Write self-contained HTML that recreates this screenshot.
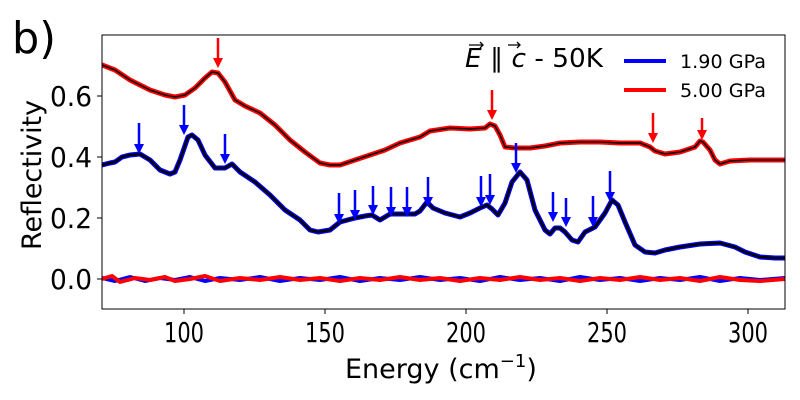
<!DOCTYPE html><html><head><style>body{margin:0;background:#fff}svg{display:block}text{font-family:"DejaVu Sans","Liberation Sans",sans-serif}</style></head><body>
<svg width="800" height="400" xmlns="http://www.w3.org/2000/svg">
<text x="12" y="53" font-size="44" textLength="44" lengthAdjust="spacingAndGlyphs">b)</text>
<g font-size="28" text-anchor="end">
<text x="92" y="106" textLength="42" lengthAdjust="spacingAndGlyphs">0.6</text><text x="92" y="167" textLength="42" lengthAdjust="spacingAndGlyphs">0.4</text><text x="92" y="228" textLength="42" lengthAdjust="spacingAndGlyphs">0.2</text><text x="92" y="289" textLength="42" lengthAdjust="spacingAndGlyphs">0.0</text>
</g>
<g stroke="#000" stroke-width="1"><line x1="97" y1="96" x2="102" y2="96"/><line x1="97" y1="157" x2="102" y2="157"/><line x1="97" y1="218" x2="102" y2="218"/><line x1="97" y1="279" x2="102" y2="279"/>
<line x1="184" y1="309" x2="184" y2="314"/><line x1="325" y1="309" x2="325" y2="314"/><line x1="466" y1="309" x2="466" y2="314"/><line x1="607" y1="309" x2="607" y2="314"/><line x1="748" y1="309" x2="748" y2="314"/></g>
<g font-size="28" text-anchor="middle">
<text x="184" y="342" textLength="40" lengthAdjust="spacingAndGlyphs">100</text><text x="325" y="342" textLength="40" lengthAdjust="spacingAndGlyphs">150</text><text x="466" y="342" textLength="40" lengthAdjust="spacingAndGlyphs">200</text><text x="607" y="342" textLength="40" lengthAdjust="spacingAndGlyphs">250</text><text x="748" y="342" textLength="40" lengthAdjust="spacingAndGlyphs">300</text>
</g>
<text x="345" y="378" font-size="27">Energy (cm<tspan font-size="18" dy="-11">−1</tspan><tspan dy="11">)</tspan></text>
<text transform="translate(41,250) rotate(-90)" font-size="27" textLength="150" lengthAdjust="spacingAndGlyphs">Reflectivity</text>
<clipPath id="c"><rect x="102" y="35" width="683" height="274"/></clipPath>
<g clip-path="url(#c)" fill="none" stroke-linejoin="round" stroke-linecap="round">
<polyline stroke="#00f" stroke-width="4" points="102,278 115,281 130,277 145,281 160,278 175,280 190,277 205,281 220,278 240,280 260,277 280,281 300,278 320,280 340,277 360,281 380,278 400,280 420,277 440,280 460,278 480,281 500,277 520,280 540,278 560,281 580,277 600,280 620,278 640,281 660,278 680,280 700,277 720,281 740,278 760,280 785,278"/>
<polyline stroke="#f00" stroke-width="4" points="102,279 112,276 120,282 135,278 150,280 165,277 175,281 190,279 205,276 220,281 240,278 260,280 280,277 300,280 320,278 340,281 360,278 380,280 400,277 420,280 440,278 460,281 480,278 500,280 520,277 540,280 560,278 580,281 600,278 620,280 640,277 660,280 680,278 700,281 720,277 740,280 760,281 785,279"/>
<polyline stroke="#f00" stroke-width="5" points="102,65 115,70 130,80 150,90 165,95 175,97 185,95 195,88 205,78 212,72 218,73 225,82 235,100 245,106 260,113 275,125 290,140 305,152 320,163 330,165 340,165 355,160 370,155 385,150 400,143 420,137 430,131 450,128 470,129 485,128 490,124 495,126 500,135 505,147 515,148 530,148 545,146 560,143 580,142 600,142 620,143 640,143 650,147 655,151 665,154 680,152 695,147 700,141 703,142 710,150 715,160 720,164 730,161 750,160 785,160"/>
<polyline stroke="#000" stroke-width="1.5" points="102,65 115,70 130,80 150,90 165,95 175,97 185,95 195,88 205,78 212,72 218,73 225,82 235,100 245,106 260,113 275,125 290,140 305,152 320,163 330,165 340,165 355,160 370,155 385,150 400,143 420,137 430,131 450,128 470,129 485,128 490,124 495,126 500,135 505,147 515,148 530,148 545,146 560,143 580,142 600,142 620,143 640,143 650,147 655,151 665,154 680,152 695,147 700,141 703,142 710,150 715,160 720,164 730,161 750,160 785,160"/>
<polyline stroke="#00f" stroke-width="5" points="102,165 110,163 115,162 122,157 130,155 140,154 150,160 160,170 170,174 175,172 180,160 188,137 192,135 198,140 205,155 215,168 225,168 232,164 240,172 255,182 270,195 285,210 300,220 310,230 318,232 330,230 340,222 355,218 365,216 372,215 380,220 390,214 400,214 415,214 420,211 427,202 433,208 445,213 460,217 470,213 480,208 487,205 492,209 498,215 505,203 512,182 520,172 527,180 535,210 545,230 550,234 555,228 560,228 565,232 572,240 578,242 585,232 595,227 605,213 612,200 618,205 625,222 635,245 645,252 655,253 665,250 680,247 700,244 720,243 735,247 745,252 760,257 775,258 785,258"/>
<polyline stroke="#000" stroke-width="2.5" points="102,165 110,163 115,162 122,157 130,155 140,154 150,160 160,170 170,174 175,172 180,160 188,137 192,135 198,140 205,155 215,168 225,168 232,164 240,172 255,182 270,195 285,210 300,220 310,230 318,232 330,230 340,222 355,218 365,216 372,215 380,220 390,214 400,214 415,214 420,211 427,202 433,208 445,213 460,217 470,213 480,208 487,205 492,209 498,215 505,203 512,182 520,172 527,180 535,210 545,230 550,234 555,228 560,228 565,232 572,240 578,242 585,232 595,227 605,213 612,200 618,205 625,222 635,245 645,252 655,253 665,250 680,247 700,244 720,243 735,247 745,252 760,257 775,258 785,258"/>
</g>
<g stroke-width="2.5">
<g stroke="#f00" fill="#f00">
<line x1="218" y1="38" x2="218" y2="60"/><polygon stroke="none" points="213,58 223,58 218,68"/>
<line x1="492" y1="90" x2="492" y2="112"/><polygon stroke="none" points="487,110 497,110 492,120"/>
<line x1="653" y1="113" x2="653" y2="135"/><polygon stroke="none" points="648,133 658,133 653,143"/>
<line x1="702" y1="118" x2="702" y2="132"/><polygon stroke="none" points="697,130 707,130 702,140"/>
</g>
<g stroke="#00f" fill="#00f">
<path d="M139 123V146M184 105V127M225 134V156M339 193V216M355 190V212M373 186V207M391 187V209M407 187V209M428 177V199M481 176V199M490 174V197M516 143V165M553 192V214M566 198V219M593 196V219M610 171V194"/>
<g stroke="none"><polygon points="134,144 144,144 139,154"/><polygon points="179,125 189,125 184,135"/><polygon points="220,154 230,154 225,164"/><polygon points="334,214 344,214 339,224"/><polygon points="350,210 360,210 355,220"/><polygon points="368,205 378,205 373,215"/><polygon points="386,207 396,207 391,217"/><polygon points="402,207 412,207 407,217"/><polygon points="423,197 433,197 428,207"/><polygon points="476,197 486,197 481,207"/><polygon points="485,195 495,195 490,205"/><polygon points="511,163 521,163 516,173"/><polygon points="548,212 558,212 553,222"/><polygon points="561,217 571,217 566,227"/><polygon points="588,217 598,217 593,227"/><polygon points="605,192 615,192 610,202"/></g>
</g></g>
<rect x="102" y="35" width="683" height="274" fill="none" stroke="#000" stroke-width="1"/>
<text x="465" y="67" font-size="26" textLength="138" lengthAdjust="spacingAndGlyphs"><tspan font-style="italic">E</tspan> ∥ <tspan font-style="italic">c</tspan> - 50K</text>
<g stroke="#000" stroke-width="1.3" fill="none"><path d="M469 45H483M480 42L483 45L480 48"/><path d="M508 45H520M517 42L520 45L517 48"/></g>
<line x1="624" y1="61" x2="666" y2="61" stroke="#00f" stroke-width="4"/>
<line x1="624" y1="90" x2="666" y2="90" stroke="#f00" stroke-width="4"/>
<text x="680" y="68" font-size="19" textLength="86" lengthAdjust="spacingAndGlyphs">1.90 GPa</text>
<text x="680" y="97" font-size="19" textLength="86" lengthAdjust="spacingAndGlyphs">5.00 GPa</text>
</svg></body></html>
